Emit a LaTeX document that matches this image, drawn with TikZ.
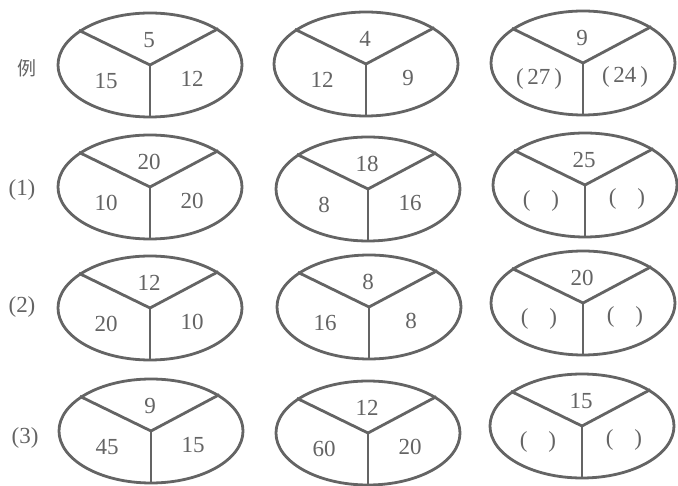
\documentclass[tikz,border=0pt]{standalone}
\usepackage{fontspec}
\setmainfont{Liberation Serif}
\newfontfamily\cjk{Noto Sans CJK SC}
\usepackage{tikz}
\usetikzlibrary{shapes.geometric}
\definecolor{inkgray}{RGB}{100,100,100}
\newcommand{\paren}[1]{(#1)}
\begin{document}
\begin{tikzpicture}[x=1pt, y=-1pt, line width=2.8pt, inkgray,
    every node/.style={font=\fontsize{23}{26}\selectfont, text=inkgray},
    oval/.style={draw, ellipse, minimum width=184pt, minimum height=104pt, inner sep=0pt}]
  \useasboundingbox[fill=white] (0,0) rectangle (678,486);

  % Row labels
  \node (lab0) at (27, 68)  {\cjk\fontsize{19}{22}\selectfont 例};
  \node (lab1) at (22, 190) {(1)};
  \node (lab2) at (22, 307) {(2)};
  \node (lab3) at (25, 438) {(3)};

  % Three-part ovals: centre / top / left / right
  \foreach \cx/\cy/\t/\l/\r [count=\i] in {
      150/65/5/15/12, 366/64/4/12/9, 583/63/9/\paren{\,27\,}/\paren{\,24\,},
      150/187/20/10/20, 368/189/18/8/16, 585/185/25/\paren{\hspace{0.9em}}/\paren{\hspace{0.9em}},
      150/308/12/20/10, 369/307/8/16/8, 583/303/20/\paren{\hspace{0.9em}}/\paren{\hspace{0.9em}},
      151/431/9/45/15, 368/433/12/60/20, 582/426/15/\paren{\hspace{0.9em}}/\paren{\hspace{0.9em}}} {
    \node[oval] (e\i) at (\cx, \cy) {};
    \draw (e\i.center) -- (e\i.154);
    \draw (e\i.center) -- (e\i.28);
    \draw (e\i.center) -- (e\i.south);
    \node (t\i) at (\cx-1, \cy-25) {\t};
    \node (l\i) at (\cx-44, \cy+16) {\l};
    \node (r\i) at (\cx+42, \cy+14) {\r};
  }
\end{tikzpicture}
\end{document}
